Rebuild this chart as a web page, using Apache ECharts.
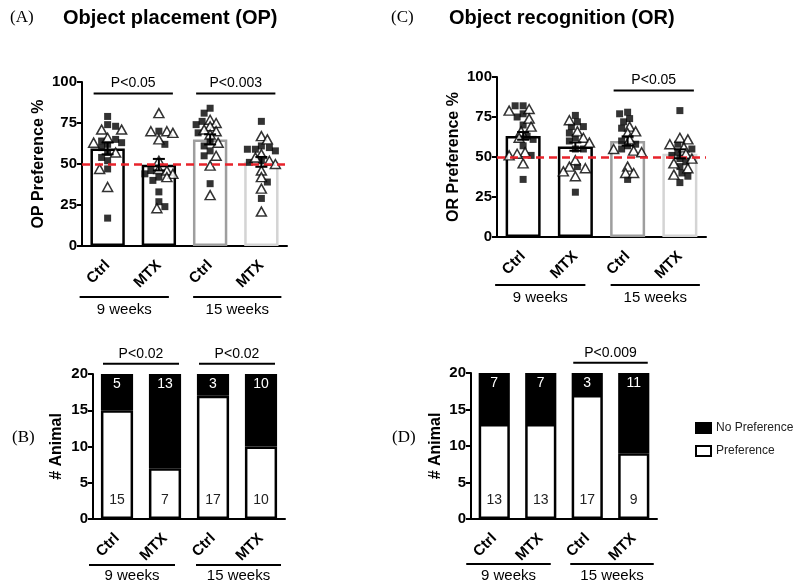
<!DOCTYPE html>
<html><head><meta charset="utf-8">
<script src="https://cdn.jsdelivr.net/npm/echarts@6/dist/echarts.min.js"></script>
<style>html,body{margin:0;padding:0;background:#fff}#c{width:795px;height:585px}</style>
</head><body><div id="c"></div>
<script>
// ---------- DATA ----------
const categories = ['Ctrl', 'MTX', 'Ctrl', 'MTX'];
const groupLabels = ['9 weeks', '15 weeks'];

// Panel A: Object placement (OP) preference %
const opMean = [59.5, 49.6, 65, 51.3];
const opSem = [3.6, 3.5, 3.1, 3.0];
const opSquares = [
  [79, 74, 73, 65, 64, 63, 62, 60, 57, 54, 52, 47, 17],
  [70, 62, 46, 44, 42, 40, 33, 27, 24],
  [84, 81, 76, 74, 69, 64, 61, 58, 55, 38],
  [76, 61, 60, 59, 59, 58, 52, 51, 39, 29]
];
const opTriangles = [
  [71, 71, 66, 63, 57, 47, 36],
  [81, 70, 69, 70, 65, 52, 47, 46, 44, 42, 23],
  [77, 75, 73, 71, 70, 68, 63, 55, 49, 31],
  [67, 65, 56, 54, 52, 50, 46, 42, 35, 21]
];
const opPText = ['P<0.05', 'P<0.003'];
const opPPairs = [[0, 1], [2, 3]];

// Panel C: Object recognition (OR) preference %
const orMean = [63.2, 56.5, 60, 52];
const orSem = [2.4, 2.6, 2.9, 2.8];
const orSquares = [
  [82, 82, 77, 75, 70, 63, 61, 57, 51, 36],
  [76, 72, 69, 69, 65, 62, 60, 55, 55, 44, 28],
  [78, 77, 74, 72, 68, 60, 58, 57, 55, 36],
  [79, 58, 55, 53, 51, 49, 47, 44, 40, 38, 34]
];
const orTriangles = [
  [80, 79, 74, 69, 66, 62, 53, 52, 51, 46],
  [73, 66, 62, 59, 48, 44, 43, 41, 38],
  [69, 66, 65, 61, 55, 54, 53, 44, 40, 40],
  [62, 61, 58, 56, 52, 49, 46, 43, 39]
];
const orPText = ['P<0.05'];
const orPPairs = [[2, 3]];

// Panel B / D: number of animals
const bPref = [15, 7, 17, 10];
const bNoPref = [5, 13, 3, 10];
const bPText = ['P<0.02', 'P<0.02'];
const bPPairs = [[0, 1], [2, 3]];
const dPref = [13, 13, 17, 9];
const dNoPref = [7, 7, 3, 11];
const dPText = ['P<0.009'];
const dPPairs = [[2, 3]];

// ---------- STYLE ----------
const SANS = 'Liberation Sans, Arial, sans-serif';
const SERIF = 'Liberation Serif, Times New Roman, serif';
const barBorders = ['#000', '#000', '#9e9e9e', '#d4d4d4'];
const grids = [
  {left: 82, top: 82, width: 205, height: 164},   // A
  {left: 497, top: 77, width: 209, height: 160},  // C
  {left: 93, top: 374, width: 192, height: 145},  // B
  {left: 471, top: 373, width: 186, height: 146}  // D
];

function xAxis(g) {
  return {
    type: 'category', gridIndex: g, data: categories,
    axisLine: {lineStyle: {color: '#000', width: 2}},
    axisTick: {alignWithLabel: true, length: 6, lineStyle: {color: '#000', width: 2}},
    axisLabel: {rotate: 45, fontWeight: 'bold', fontSize: 15, color: '#000', fontFamily: SANS, margin: 17},
    splitLine: {show: false}
  };
}
function yAxis(g, max, interval, name, gap) {
  return {
    type: 'value', gridIndex: g, min: 0, max: max, interval: interval,
    name: name, nameLocation: 'middle', nameGap: gap,
    nameTextStyle: {fontWeight: 'bold', fontSize: 16, color: '#000', fontFamily: SANS},
    axisLine: {show: true, lineStyle: {color: '#000', width: 2}},
    axisTick: {show: true, length: 5, lineStyle: {color: '#000', width: 2}},
    axisLabel: {fontWeight: 'bold', fontSize: 15, color: '#000', fontFamily: SANS, margin: 5},
    splitLine: {show: false}
  };
}

// deterministic compact beeswarm (horizontal offsets in px, limited to the bar width)
function swarm(sq, tr, pxPerUnit) {
  const res = {sq: [], tr: []};
  const MAXO = 15, STEP = 2, MIND = 6.5;
  for (let c = 0; c < sq.length; c++) {
    const pts = sq[c].map(v => ({v, t: 'sq'})).concat(tr[c].map(v => ({v, t: 'tr'})));
    pts.sort((a, b) => b.v - a.v);
    const placed = [];
    pts.forEach((p, i) => {
      const y = p.v * pxPerUnit;
      const sign = i % 2 === 0 ? 1 : -1;
      const cands = [0];
      for (let k = 1; k * STEP <= MAXO; k++) { cands.push(sign * k * STEP, -sign * k * STEP); }
      let best = 0, bestD = -1;
      for (const cand of cands) {
        const d = placed.reduce((m, q) => Math.min(m, Math.hypot(q.x - cand, q.y - y)), 1e9);
        if (d >= MIND) { best = cand; bestD = d; break; }
        if (d > bestD) { bestD = d; best = cand; }
      }
      placed.push({x: best, y: y});
      res[p.t].push({value: [c, p.v], symbolOffset: [best, 0]});
    });
  }
  return res;
}

function prefSeries(g, mean, sem, sq, tr) {
  const ppu = grids[g].height / 100;
  const sw = swarm(sq, tr, ppu);
  return [
    {
      type: 'bar', xAxisIndex: g, yAxisIndex: g, barWidth: '67%', z: 2,
      data: mean.map((m, i) => ({value: m, itemStyle: {color: '#fff', borderColor: barBorders[i], borderWidth: 2.5}})),
      markLine: {
        silent: true, symbol: 'none', label: {show: false}, z: 5,
        lineStyle: {color: '#e8232b', type: [8, 5], width: 2.5},
        data: [{yAxis: 50}]
      }
    },
    {
      type: 'scatter', xAxisIndex: g, yAxisIndex: g, symbol: 'rect', symbolSize: 7, z: 4,
      itemStyle: {color: '#000'}, data: sw.sq
    },
    {
      type: 'scatter', xAxisIndex: g, yAxisIndex: g, symbol: 'triangle', symbolSize: [10, 9], z: 4,
      itemStyle: {color: '#fff', borderColor: '#000', borderWidth: 1.5}, data: sw.tr
    },
    {
      type: 'custom', xAxisIndex: g, yAxisIndex: g, z: 6,
      data: mean.map((m, i) => [i, m - sem[i], m + sem[i]]),
      renderItem: (params, api) => {
        const lo = api.coord([api.value(0), api.value(1)]);
        const hi = api.coord([api.value(0), api.value(2)]);
        const w = 6;
        const st = {stroke: '#000', lineWidth: 2};
        return {type: 'group', children: [
          {type: 'line', shape: {x1: hi[0], y1: hi[1], x2: lo[0], y2: lo[1]}, style: st},
          {type: 'line', shape: {x1: hi[0] - w, y1: hi[1], x2: hi[0] + w, y2: hi[1]}, style: st},
          {type: 'line', shape: {x1: lo[0] - w, y1: lo[1], x2: lo[0] + w, y2: lo[1]}, style: st}
        ]};
      }
    }
  ];
}

function countSeries(g, pref, nopref) {
  return [
    {
      type: 'bar', name: 'Preference', stack: 's' + g, xAxisIndex: g, yAxisIndex: g, barWidth: '67%',
      itemStyle: {color: '#fff', borderColor: '#000', borderWidth: 2.5},
      label: {show: true, position: 'insideBottom', distance: 12, color: '#222', fontSize: 14, fontFamily: SANS},
      data: pref
    },
    {
      type: 'bar', name: 'No Preference', stack: 's' + g, xAxisIndex: g, yAxisIndex: g, barWidth: '67%',
      itemStyle: {color: '#000', borderColor: '#000', borderWidth: 2.5},
      label: {show: true, position: 'insideTop', distance: 3, color: '#fff', fontSize: 14, fontFamily: SANS},
      data: nopref
    }
  ];
}

const chart = echarts.init(document.getElementById('c'), null, {renderer: 'canvas'});
chart.setOption({
  animation: false,
  backgroundColor: '#fff',
  grid: grids,
  xAxis: [xAxis(0), xAxis(1), xAxis(2), xAxis(3)],
  yAxis: [
    yAxis(0, 100, 25, 'OP Preference %', 35),
    yAxis(1, 100, 25, 'OR Preference %', 35),
    yAxis(2, 20, 5, '# Animal', 28),
    yAxis(3, 20, 5, '# Animal', 27)
  ],
  legend: {
    orient: 'vertical', left: 690, top: 417, itemWidth: 15, itemHeight: 10, itemGap: 11,
    textStyle: {fontSize: 12, color: '#222', fontFamily: SANS},
    data: [
      {name: 'No Preference', icon: 'rect', itemStyle: {color: '#000', borderColor: '#000', borderWidth: 2}},
      {name: 'Preference', icon: 'rect', itemStyle: {color: '#fff', borderColor: '#000', borderWidth: 2}}
    ]
  },
  series: [].concat(
    prefSeries(0, opMean, opSem, opSquares, opTriangles),
    prefSeries(1, orMean, orSem, orSquares, orTriangles),
    countSeries(2, bPref, bNoPref),
    countSeries(3, dPref, dNoPref)
  )
});

// ---------- annotations via axis scales ----------
const gfx = [];
function txt(x, y, s, font, align) {
  gfx.push({type: 'text', x: x, y: y, silent: true,
    style: {text: s, font: font, fill: '#000', align: align || 'left', verticalAlign: 'middle'}});
}
function line(x1, y1, x2, y2) {
  gfx.push({type: 'line', silent: true, shape: {x1, y1, x2, y2}, style: {stroke: '#000', lineWidth: 2}});
}
txt(10, 18, '(A)', '17px ' + SERIF);
txt(63, 18, 'Object placement (OP)', 'bold 20px ' + SANS);
txt(391, 18, '(C)', '17px ' + SERIF);
txt(449, 18, 'Object recognition (OR)', 'bold 20px ' + SANS);
txt(12, 438, '(B)', '17px ' + SERIF);
txt(392, 438, '(D)', '17px ' + SERIF);

function groupLines(g, dyLine, dyText) {
  const cx = categories.map((c, i) => chart.convertToPixel({gridIndex: g}, [i, 0]));
  const y0 = cx[0][1];
  [[0, 1, -28, 10], [2, 3, -17, 20]].forEach((p, k) => {
    const x1 = cx[p[0]][0] + p[2], x2 = cx[p[1]][0] + p[3];
    line(x1, y0 + dyLine, x2, y0 + dyLine);
    txt((x1 + x2) / 2, y0 + dyText, groupLabels[k], '15px ' + SANS, 'center');
  });
}
groupLines(0, 51, 64);
groupLines(1, 48, 61);
groupLines(2, 46, 57);
groupLines(3, 45, 57);

function brackets(g, pairs, texts, yVal) {
  pairs.forEach((p, k) => {
    const a = chart.convertToPixel({gridIndex: g}, [p[0], yVal]);
    const b = chart.convertToPixel({gridIndex: g}, [p[1], yVal]);
    const x1 = a[0] - 14, x2 = b[0] + 14;
    line(x1, a[1], x2, a[1]);
    txt((x1 + x2) / 2, a[1] - 10, texts[k], '14px ' + SANS, 'center');
  });
}
brackets(0, opPPairs, opPText, 93);
brackets(1, orPPairs, orPText, 91.6);
brackets(2, bPPairs, bPText, 21.4);
brackets(3, dPPairs, dPText, 21.4);

chart.setOption({graphic: {elements: gfx}});
</script></body></html>
